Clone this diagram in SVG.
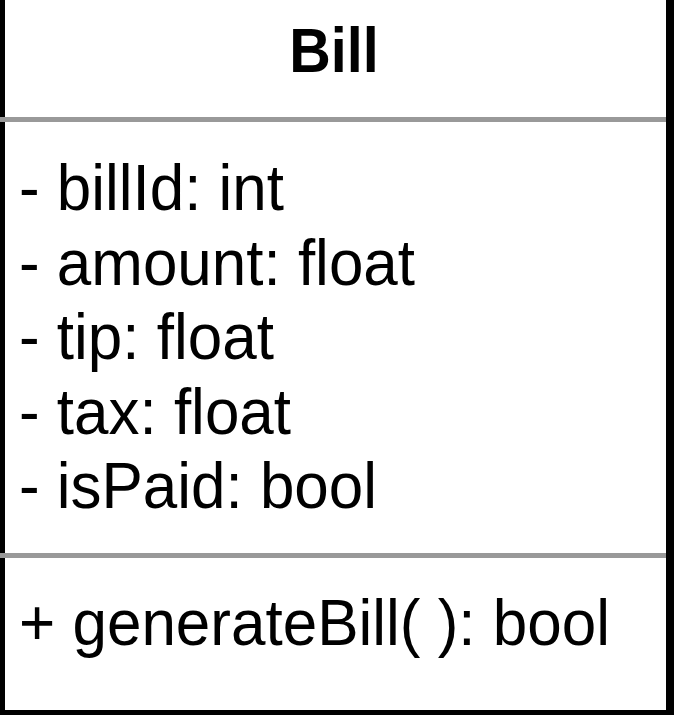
<svg xmlns="http://www.w3.org/2000/svg" width="674" height="715" viewBox="0 0 674 715">
<style>
.t{font-family:"Liberation Sans",Arial,Helvetica,sans-serif;font-size:64px;fill:#000}
.h{font-weight:bold;text-anchor:middle;font-size:63px}
.div{fill:#999}
</style>
<rect width="674" height="715" fill="#fff"/>
<g id="Bill">
<rect x="0" y="0" width="5" height="715" fill="#000"/>
<rect x="666" y="0" width="8" height="715" fill="#000"/>
<rect x="0" y="710" width="674" height="5" fill="#000"/>
<rect class="div" x="0" y="117" width="666" height="5"/>
<rect class="div" x="0" y="553" width="666" height="5"/>
<text class="t h" x="334" y="72" textLength="89.5" lengthAdjust="spacingAndGlyphs">Bill</text>
<text class="t" x="19" y="210" textLength="265" lengthAdjust="spacingAndGlyphs">- billId: int</text>
<text class="t" x="19" y="285" textLength="396" lengthAdjust="spacingAndGlyphs">- amount: float</text>
<text class="t" x="19" y="359" textLength="255" lengthAdjust="spacingAndGlyphs">- tip: float</text>
<text class="t" x="19" y="434" textLength="272" lengthAdjust="spacingAndGlyphs">- tax: float</text>
<text class="t" x="19" y="508" textLength="358" lengthAdjust="spacingAndGlyphs">- isPaid: bool</text>
<text class="t" x="19" y="645" textLength="591" lengthAdjust="spacingAndGlyphs">+ generateBill( ): bool</text>
</g>
<g id="connectors"/>
</svg>
